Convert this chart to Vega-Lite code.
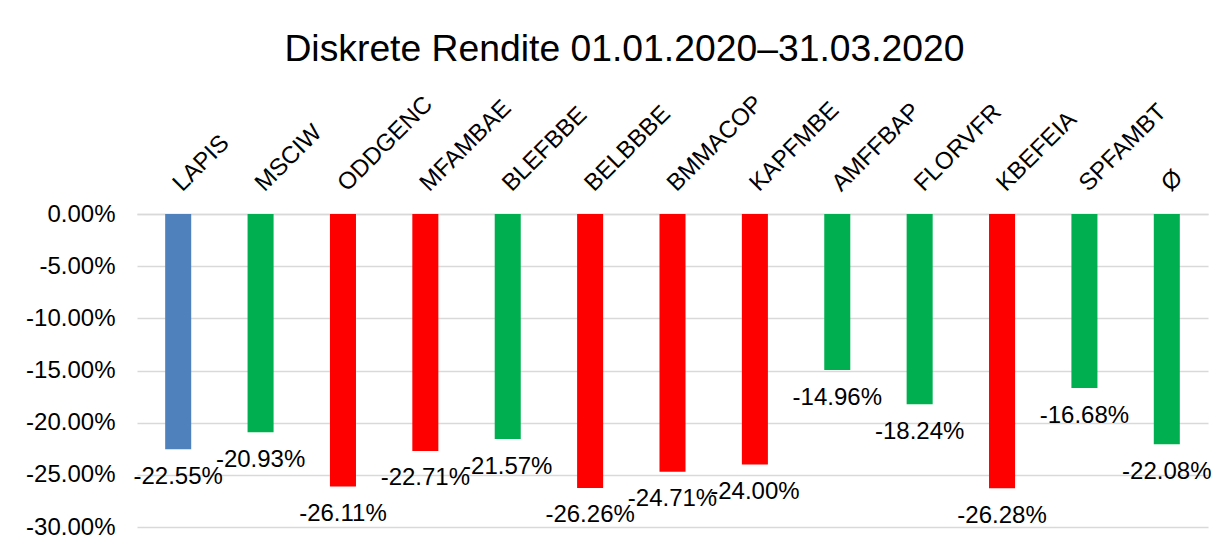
{
  "$schema": "https://vega.github.io/schema/vega-lite/v6.json",
  "width": 1071,
  "height": 313,
  "autosize": "none",
  "padding": {"left": 137, "top": 214, "right": 19, "bottom": 22},
  "background": "white",
  "title": {
    "text": "Diskrete Rendite 01.01.2020–31.03.2020",
    "font": "Liberation Sans",
    "fontSize": 37.3,
    "fontWeight": "normal",
    "color": "#000000",
    "anchor": "middle",
    "dx": -48,
    "offset": 22
  },
  "data": {
    "values": [
      {"fonds": "LAPIS", "rendite": -0.2255, "vergleich": "LAPIS"},
      {"fonds": "MSCIW", "rendite": -0.2093, "vergleich": "besser"},
      {"fonds": "ODDGENC", "rendite": -0.2611, "vergleich": "schlechter"},
      {"fonds": "MFAMBAE", "rendite": -0.2271, "vergleich": "schlechter"},
      {"fonds": "BLEFBBE", "rendite": -0.2157, "vergleich": "besser"},
      {"fonds": "BELBBBE", "rendite": -0.2626, "vergleich": "schlechter"},
      {"fonds": "BMMACOP", "rendite": -0.2471, "vergleich": "schlechter"},
      {"fonds": "KAPFMBE", "rendite": -0.2400, "vergleich": "schlechter"},
      {"fonds": "AMFFBAP", "rendite": -0.1496, "vergleich": "besser"},
      {"fonds": "FLORVFR", "rendite": -0.1824, "vergleich": "besser"},
      {"fonds": "KBEFEIA", "rendite": -0.2628, "vergleich": "schlechter"},
      {"fonds": "SPFAMBT", "rendite": -0.1668, "vergleich": "besser"},
      {"fonds": "Ø", "rendite": -0.2208, "vergleich": "besser"}
    ]
  },
  "encoding": {
    "x": {
      "field": "fonds",
      "type": "nominal",
      "sort": null,
      "scale": {"paddingInner": 0.684, "paddingOuter": 0.342},
      "axis": {
        "orient": "top",
        "title": null,
        "labelAngle": -45,
        "labelAlign": "left",
        "labelBaseline": "alphabetic",
        "labelPadding": 22,
        "labelOffset": 4,
        "labelFont": "Liberation Sans",
        "labelFontSize": 24,
        "labelColor": "#000000",
        "labelOverlap": false,
        "ticks": false,
        "domain": true,
        "domainColor": "#d9d9d9",
        "domainWidth": 1.5,
        "grid": false
      }
    },
    "y": {
      "field": "rendite",
      "type": "quantitative",
      "scale": {"domain": [-0.3, 0], "nice": false, "zero": true},
      "axis": {
        "title": null,
        "values": [0, -0.05, -0.1, -0.15, -0.2, -0.25, -0.3],
        "format": ".2%",
        "labelFont": "Liberation Sans",
        "labelFontSize": 24,
        "labelColor": "#000000",
        "labelPadding": 22,
        "ticks": false,
        "domain": false,
        "grid": true,
        "gridColor": "#d9d9d9",
        "gridWidth": 1.5
      }
    }
  },
  "layer": [
    {
      "mark": {"type": "bar"},
      "encoding": {
        "color": {
          "field": "vergleich",
          "type": "nominal",
          "scale": {"domain": ["LAPIS", "besser", "schlechter"], "range": ["#4F81BD", "#00B050", "#FF0000"]},
          "legend": null
        }
      }
    },
    {
      "mark": {"type": "text", "baseline": "middle", "align": "center", "dy": 27.5, "font": "Liberation Sans", "fontSize": 24, "color": "#000000"},
      "encoding": {
        "text": {"field": "rendite", "type": "quantitative", "format": ".2%"}
      }
    }
  ],
  "config": {
    "view": {"stroke": null},
    "locale": {
      "number": {"decimal": ".", "thousands": ",", "grouping": [3], "currency": ["$", ""], "minus": "-"}
    }
  }
}
